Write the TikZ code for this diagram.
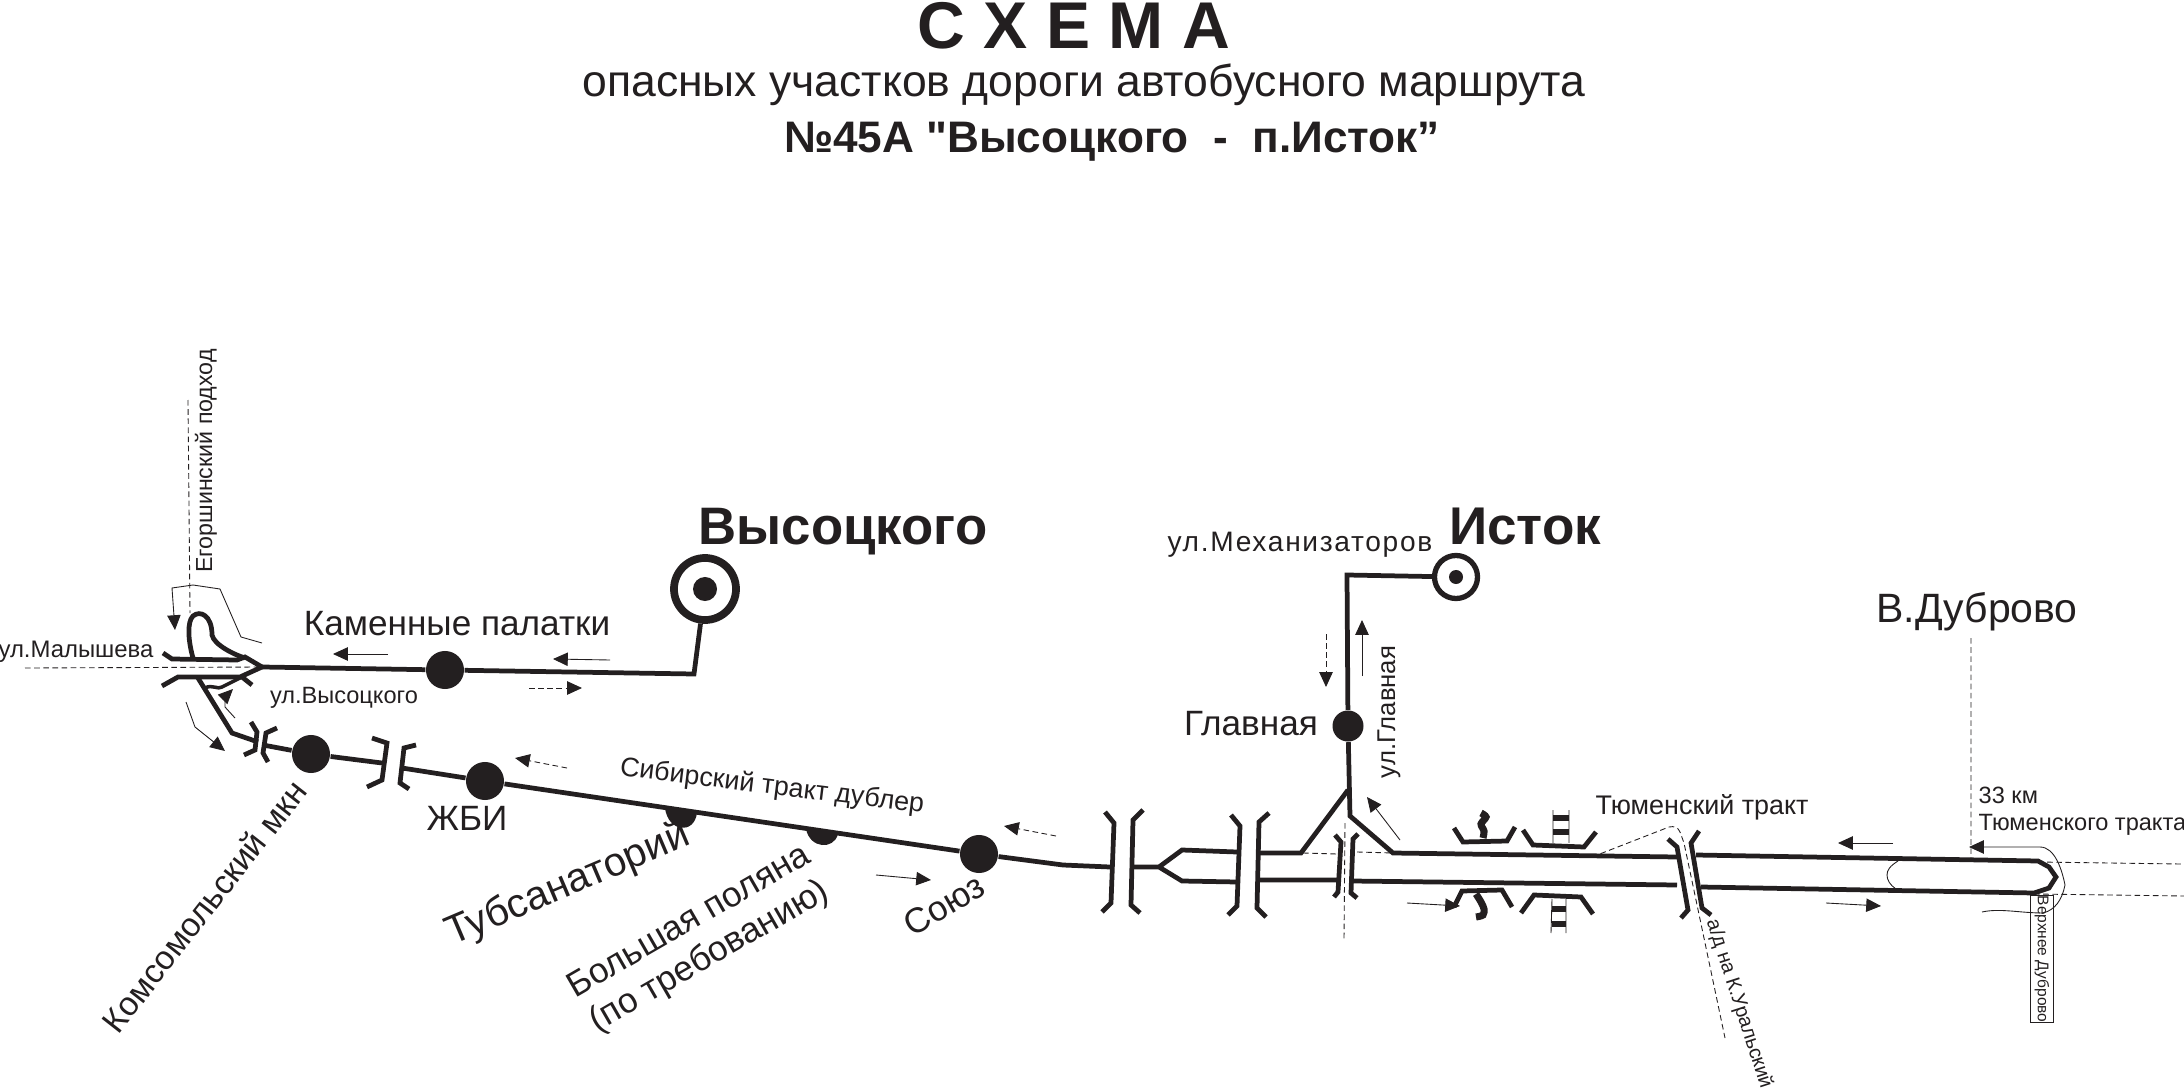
\documentclass[tikz,border=0pt]{standalone}
\usepackage{fontspec}
\setmainfont{Liberation Sans}
\usepackage{tikz}
\usetikzlibrary{arrows.meta}
\definecolor{ink}{HTML}{231F20}
\newcommand{\fsz}[1]{\fontsize{#1}{1.15\dimexpr#1pt\relax}\selectfont}
\newfontfamily\spacedfont[LetterSpace=6]{Liberation Sans}
\newfontfamily\quotefont[BoldFont=Liberation Sans Bold]{Liberation Sans}
\tikzset{
  road/.style={draw=ink, line width=1.35pt},
  thinline/.style={draw=ink, line width=0.25pt},
  dashline/.style={draw=ink, line width=0.25pt, dash pattern=on 1.6pt off 1pt},
  flow/.style={thinline, -{Triangle[length=4.2pt, width=3.8pt]}},
  dashflow/.style={dashline, -{Triangle[length=4.2pt, width=3.8pt]}},
  stopdot/.style={circle, fill=ink, inner sep=0pt, minimum size=0.38cm},
  lbl/.style={text=ink, inner sep=0pt, align=center},
}
\begin{document}
\begin{tikzpicture}[x=0.01cm, y=-0.01cm]
  \useasboundingbox (0,0) rectangle (2184,1088);
  \clip (0,0) rectangle (2184,1088);
  % titles
  \node[lbl, font=\fsz{18.8}\bfseries] (title) at (1074,26) {С Х Е М А};
  \node[lbl, font=\fsz{12.65}] (title2) at (1084,85) {опасных участков дороги автобусного маршрута};
  \node[lbl, font=\fsz{12.55}\quotefont\bfseries] (title3) at (1112,142) {№45А "Высоцкого~~-~~п.Исток”};
  % stops
  \node[stopdot] (kamen) at (445,670) {};
  \node[stopdot] (komsom) at (311,754) {};
  \node[stopdot] (zhbi) at (485,781) {};
  \node[stopdot] (soyuz) at (979,854) {};
  \node[stopdot, minimum size=0.31cm] (glavn) at (1348,726) {};
  \node[circle, draw=ink, line width=2.2pt, inner sep=0pt, minimum size=0.62cm] (vys) at (705,589) {};
  \node[circle, fill=ink, inner sep=0pt, minimum size=0.24cm] (vysc) at (705,589) {};
  \node[circle, draw=ink, line width=1.5pt, inner sep=0pt, minimum size=0.43cm] (ist) at (1456,577) {};
  \node[circle, fill=ink, inner sep=0pt, minimum size=0.14cm] (istc) at (1456,577) {};
  \fill[ink] (665,808) .. controls (668,832) and (694,835) .. (697,813) -- cycle;
  \fill[ink] (806,829) .. controls (810,849) and (834,850) .. (838,834) -- cycle;
  % roads
  \coordinate (fork) at (262,667);
  \draw[road] (fork) -- (kamen) -- (694,674) -- (vys);
  \draw[road] (163,653) -- (172,659) -- (237,660) -- (245,657) -- (fork) -- (240,677) -- (178,677) -- (162,686);
  \draw[road] (193,658) .. controls (188,640) and (187,622) .. (193,616) .. controls (200,610) and (212,615) .. (212,635) .. controls (214,645) and (235,655) .. (245,658);
  \draw[road] (242,677) -- (252,685) (198,678) -- (232,733) -- (258,742);
  \draw[road, line width=1pt] (205,688) .. controls (212,684) and (218,690) .. (222,687) -- (242,677);
  \draw[road] (263,745) -- (komsom) -- (382,763);
  \draw[road] (402,768) -- (zhbi) -- (soyuz) -- (1063,865) -- (1110,867);
  \draw[road] (1133,867) -- (1159,867) -- (1182,850) -- (1237,852) (1159,867) -- (1182,881) -- (1237,882);
  \draw[road] (1259,853) -- (1301,853) -- (1348,790) (1259,880) -- (1337,880);
  \draw[road] (ist) -- (1347,575) -- (glavn) -- (1350,816) -- (1393,853) -- (1677,857);
  \draw[road] (1352,881) -- (1677,885);
  \draw[road] (1696,855) -- (2038,861) -- (2049,867) -- (2056,877) -- (2049,888) -- (2034,893) -- (1701,887);
  % bridges
  \draw[road] (251,722) -- (257,732) -- (255,750) -- (244,755) (277,728) -- (266,733) -- (263,753) -- (268,762);
  \draw[road] (372,738) -- (387,743) -- (382,780) -- (367,787) (416,745) -- (404,748) -- (400,783) -- (409,789);
  \draw[road] (1105,812) -- (1114,823) -- (1111,903) -- (1102,912) (1143,810) -- (1133,820) -- (1131,905) -- (1140,913);
  \draw[road] (1231,815) -- (1240,826) -- (1237,906) -- (1228,915) (1269,813) -- (1259,822) -- (1257,908) -- (1266,917);
  \draw[road] (1335,835) -- (1341,842) -- (1338,892) -- (1334,897) (1358,834) -- (1353,839) -- (1351,893) -- (1357,898);
  \draw[road] (1668,839) -- (1677,847) -- (1688,910) -- (1681,918) (1699,831) -- (1691,843) -- (1702,908) -- (1711,915);
  % river and railway signs
  \draw[road] (1454,828) -- (1463,842) -- (1507,841) -- (1515,827) (1523,830) -- (1533,845) -- (1584,847) -- (1596,832);
  \draw[road] (1454,907) -- (1462,891) -- (1502,890) -- (1512,907) (1521,913) -- (1534,895) -- (1581,897) -- (1593,914);
  \draw[road, line width=2pt] plot[smooth] coordinates {(1481,813) (1486,817) (1481,824) (1484,831) (1483,838)};
  \draw[road, line width=2pt] plot[smooth] coordinates {(1476,894) (1481,902) (1484,909) (1483,915) (1476,917)};
  \draw[thinline] (1553,810) -- (1553,843) (1569,810) -- (1569,843) (1552,899) -- (1551,933) (1566,899) -- (1566,933);
  \draw[road, line width=1.6pt] (1553,818) -- (1569,818) (1553,832) -- (1569,832) (1552,909) -- (1566,909) (1552,924) -- (1566,924);
  % side roads
  \draw[dashline] (188,400) -- (190,613) (25,668) -- (fork);
  \draw[dashline] (1303,853) -- (1337,854) (1357,852) -- (1393,853) (1345,823) -- (1344,940);
  \draw[dashline] (1592,857) -- (1669,827) .. controls (1674,826) and (1678,827) .. (1680,832) -- (1684,843) -- (1725,1038);
  \draw[dashline] (1971,638) -- (1971,858) (2038,862) -- (2181,864) (2034,894) -- (2184,896);
  \draw[thinline] (1898,861) .. controls (1890,866) and (1887,870) .. (1887,875) .. controls (1887,880) and (1890,885) .. (1896,889);
  % traffic arrows
  \draw[flow] (262,643) -- (241,637) -- (220,589) -- (193,585) -- (172,588) -- (175,630);
  \draw[flow] (235,718) -- (225,707) -- (225,697) -- (233,689);
  \draw[flow] (186,702) -- (195,727) -- (225,751);
  \draw[flow] (388,654) -- (333,654);
  \draw[flow] (610,660) -- (553,659);
  \draw[dashflow] (529,688) -- (582,688);
  \draw[dashflow] (567,768) -- (515,758);
  \draw[dashflow] (1056,836) -- (1004,826);
  \draw[flow] (876,875) -- (931,880);
  \draw[dashflow] (1326,634) -- (1326,687);
  \draw[flow] (1362,676) -- (1362,620);
  \draw[flow] (1400,840) -- (1367,797);
  \draw[flow] (1407,903) -- (1460,906);
  \draw[flow] (1893,843) -- (1838,843);
  \draw[flow] (1826,903) -- (1881,906);
  \draw[flow] (1982,912) .. controls (2000,908) and (2020,913) .. (2043,913) .. controls (2055,910) and (2062,900) .. (2065,885) .. controls (2062,870) and (2055,847) .. (2040,847) -- (1969,847);
  % labels
  \node[lbl, font=\fsz{15}\bfseries] (lvys) at (843,532) {Высоцкого};
  \node[lbl, font=\fsz{15.1}\bfseries] (list) at (1525,526) {Исток};
  \node[lbl, font=\fsz{8}\spacedfont] (lmech) at (1300,545) {ул.Механизаторов};
  \node[lbl, font=\fsz{10}] (lkam) at (457,624) {Каменные палатки};
  \node[lbl, font=\fsz{6.8}] (lmal) at (76,652) {ул.Малышева};
  \node[lbl, font=\fsz{6.7}] (lvsc) at (344,698) {ул.Высоцкого};
  \node[lbl, font=\fsz{6.6}, rotate=90] (leg) at (206,461) {Егоршинский подход};
  \node[lbl, font=\fsz{9.5}, rotate=52] (lkom) at (204,906) {Комсомольский мкн};
  \node[lbl, font=\fsz{10}] (lzhb) at (467,818) {ЖБИ};
  \node[lbl, font=\fsz{11.5}, rotate=23] (ltub) at (568,885) {Тубсанаторий};
  \node[lbl, font=\fsz{10}, rotate=30] (lbol) at (700,940) {Большая поляна\\(по требованию)};
  \node[lbl, font=\fsz{10}, rotate=30] (lsoy) at (944,905) {Союз};
  \node[lbl, font=\fsz{7.65}, rotate=-7] (lsib) at (772,787) {Сибирский тракт дублер};
  \node[lbl, font=\fsz{10}] (lgl) at (1251,724) {Главная};
  \node[lbl, font=\fsz{7.3}, rotate=90] (lugl) at (1389,712) {ул.Главная};
  \node[lbl, font=\fsz{7.65}] (ltum) at (1702,807) {Тюменский тракт};
  \node[lbl, font=\fsz{11.65}] (ldub) at (1977,612) {В.Дуброво};
  \node[lbl, font=\fsz{6.7}, align=left, anchor=west] (l33) at (1978,811) {33 км\\Тюменского тракта};
  \node[lbl, font=\fsz{5.7}, rotate=-72] (lad) at (1739,1004) {а/д на К.Уральский};
  \node[lbl, draw=ink, line width=0.25pt, font=\fsz{4.4}, rotate=-90, minimum width=1.26cm, minimum height=0.23cm] (lvd) at (2042,959) {Верхнее Дуброво};
\end{tikzpicture}
\end{document}
